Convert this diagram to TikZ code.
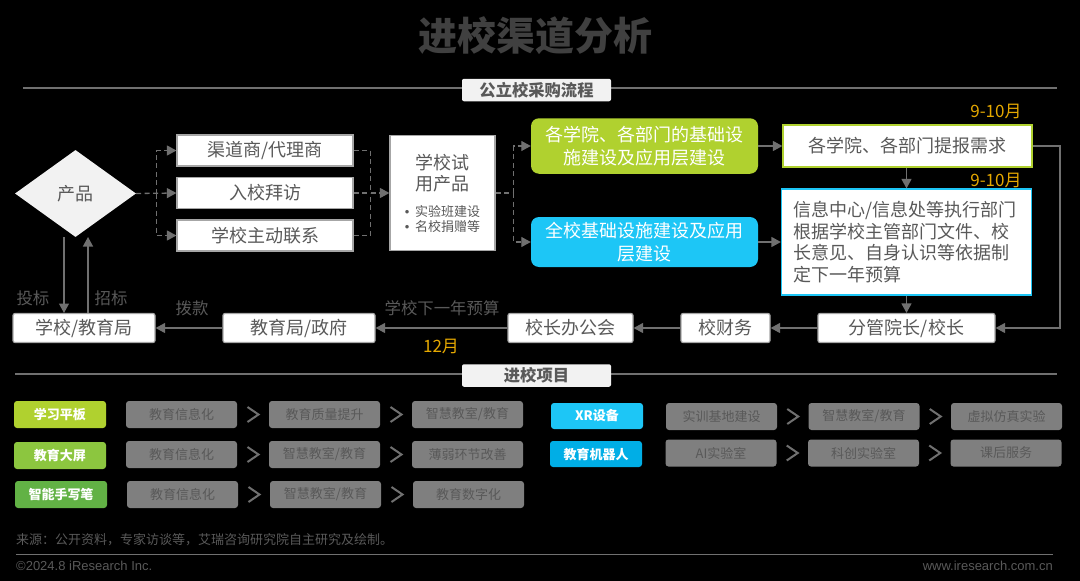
\documentclass[tikz,border=0pt]{standalone}
\usepackage{fontspec}
\setmainfont{Noto Sans CJK SC}
\newfontfamily\latinfont{Liberation Sans}
\usetikzlibrary{arrows.meta,calc,shapes.geometric}
\definecolor{txtgray}{HTML}{595959}
\definecolor{linegray}{HTML}{707070}
\definecolor{boxgray}{HTML}{7F7F7F}
\definecolor{lightbar}{HTML}{F2F2F2}
\definecolor{limegreen}{HTML}{B0D12F}
\definecolor{midgreen}{HTML}{8CC63F}
\definecolor{deepgreen}{HTML}{62B245}
\definecolor{skyblue}{HTML}{1DC6F6}
\definecolor{deepblue}{HTML}{00AEE6}
\definecolor{goldtxt}{HTML}{E5A800}
\tikzset{
  whitebox/.style={draw=#1,line width=1.2pt,fill=white,text=txtgray,inner sep=0pt,font=\fontsize{18}{21.7}\selectfont,align=center},
  whitebox/.default={black!35},
  softbox/.style={whitebox,rounded corners=2pt},
  colorbox/.style={fill=#1,text=white,rounded corners=8pt,inner sep=0pt,font=\fontsize{18}{22.5}\selectfont,align=center},
  tagbox/.style={fill=#1,text=white,rounded corners=3pt,inner sep=0pt,font=\fontsize{13}{15}\selectfont\bfseries},
  graybox/.style={fill=boxgray,text=txtgray,rounded corners=3pt,inner sep=0pt,minimum width=111pt,minimum height=27pt,font=\fontsize{13}{15}\selectfont},
  barbox/.style={fill=lightbar,text=txtgray,rounded corners=2pt,inner sep=0pt,minimum width=149pt,minimum height=22.5pt,font=\fontsize{16.3}{18}\selectfont\bfseries},
  flowline/.style={draw=linegray,line width=1.3pt,-{Triangle[length=9.5pt,width=10pt]}},
  dashline/.style={flowline,dashed,dash pattern=on 5pt off 3.5pt},
  dashplain/.style={draw=linegray,line width=1.3pt,dashed,dash pattern=on 5pt off 3.5pt},
  chevron/.style={draw=linegray,line width=2pt},
  note/.style={text=txtgray,inner sep=0pt,font=\fontsize{16.4}{19}\selectfont},
  month/.style={text=goldtxt,inner sep=0pt,font=\fontsize{17}{19}\selectfont}
}
\begin{document}
\begin{tikzpicture}[x=1pt,y=-1pt]
  \fill[black] (0,0) rectangle (1080,581);
  \useasboundingbox (0,0) rectangle (1080,581);
  % title and section bars
  \node[text=black!75,inner sep=0pt,font=\fontsize{39}{44}\selectfont\bfseries] (title) at (535,36) {进校渠道分析};
  \coordinate (barAl) at (23,88);
  \coordinate (barAr) at (1057,88);
  \coordinate (barBl) at (15,374);
  \coordinate (barBr) at (1057,374);
  \draw[linegray,line width=1.2pt] (barAl)--(barAr);
  \draw[linegray,line width=1.2pt] (barBl)--(barBr);
  \node[barbox] (barA) at (536.5,90) {公立校采购流程};
  \node[barbox] (barB) at (536.5,375.5) {进校项目};
  % upper flow
  \node[diamond,aspect=1.39,fill=lightbar,text=txtgray,inner sep=0pt,minimum width=121pt,minimum height=87pt,font=\fontsize{18}{22}\selectfont] (prod) at (75.5,193.5) {产品};
  \node[whitebox,minimum width=176pt,minimum height=31pt] (qudao) at (265,150.5) {渠道商/代理商};
  \node[whitebox,minimum width=176pt,minimum height=31pt] (baifang) at (265,193) {入校拜访};
  \node[whitebox,minimum width=176pt,minimum height=31pt] (lianxi) at (265,235.5) {学校主动联系};
  \node[whitebox,minimum width=105pt,minimum height=115pt] (shiyong) at (442.5,193) {学校试\\用产品\\[4pt]\fontsize{13}{15.5}\selectfont {\latinfont •}\hspace{3pt} 实验班建设\\[-7pt]\fontsize{13}{15.5}\selectfont {\latinfont •}\hspace{3pt} 名校捐赠等};
  \node[colorbox=limegreen,minimum width=227pt,minimum height=55.5pt] (jichu) at (644.5,146) {各学院、各部门的基础设\\施建设及应用层建设};
  \node[colorbox=skyblue,minimum width=227pt,minimum height=50pt] (quanxiao) at (644.5,242) {全校基础设施建设及应用\\层建设};
  \node[whitebox=limegreen,minimum width=249pt,minimum height=42pt] (tibao) at (907.5,146) {各学院、各部门提报需求};
  \node[whitebox=skyblue,minimum width=250pt,minimum height=106pt,text width=227pt,align=left] (yusuan) at (906.5,242) {信息中心/信息处等执行部门\\根据学校主管部门文件、校\\长意见、自身认识等依据制\\定下一年预算};
  \node[month] (mA) at (996,111) {9-10月};
  \node[month] (mB) at (996,180) {9-10月};
  % lower flow
  \node[softbox,minimum width=177pt,minimum height=29pt] (fenguan) at (906.5,328) {分管院长/校长};
  \node[softbox,minimum width=89pt,minimum height=29pt] (caiwu) at (725.5,328) {校财务};
  \node[softbox,minimum width=125pt,minimum height=29pt] (bangong) at (570.5,328) {校长办公会};
  \node[softbox,minimum width=152pt,minimum height=29pt] (zhengfu) at (299,328) {教育局/政府};
  \node[softbox,minimum width=142pt,minimum height=29pt] (xuexiao) at (84,328) {学校/教育局};
  \node[note] (toub) at (33,298) {投标};
  \node[note] (zhaob) at (111,298) {招标};
  \node[note] (bok) at (192,308) {拨款};
  \node[note] (xyn) at (442,308) {学校下一年预算};
  \node[month] (mC) at (441,346) {12月};
  \coordinate (tbtop) at (64,237);
  \coordinate (tbbot) at (64,313);
  \coordinate (zbtop) at (88,237);
  \coordinate (zbbot) at (88,313);
  \coordinate (trunk) at (1060,146);
  % dashed links
  \draw[dashline] (prod.east)--(baifang.west);
  \draw[dashline] ($(prod.east)+(20,0)$)|-(qudao.west);
  \draw[dashline] ($(prod.east)+(20,0)$)|-(lianxi.west);
  \draw[dashline] (baifang.east)--(baifang.east-|shiyong.west);
  \draw[dashplain] (qudao.east)-|($(baifang.east)+(17,0)$);
  \draw[dashplain] (lianxi.east)-|($(baifang.east)+(17,0)$);
  \draw[dashplain] (shiyong.east)--++(18,0);
  \draw[dashline] ($(shiyong.east)+(18,0)$)|-(jichu.west);
  \draw[dashline] ($(shiyong.east)+(18,0)$)|-(quanxiao.west);
  % solid links
  \draw[flowline] (jichu.east)--(tibao.west);
  \draw[flowline] (quanxiao.east)--(yusuan.west);
  \draw[flowline] (tibao.south-|yusuan.north)--(yusuan.north);
  \draw[flowline] (yusuan.south)--(fenguan.north);
  \draw[flowline] (tibao.east)--(trunk)|-(fenguan.east);
  \draw[flowline] (fenguan)--(caiwu);
  \draw[flowline] (caiwu)--(bangong);
  \draw[flowline] (bangong)--(zhengfu);
  \draw[flowline] (zhengfu)--(xuexiao);
  \draw[flowline] (tbtop)--(tbbot);
  \draw[flowline] (zbbot)--(zbtop);
  % lower project rows
  \node[tagbox=limegreen,minimum width=92pt,minimum height=27pt] (tagA) at (60,414.5) {学习平板};
  \node[tagbox=midgreen,minimum width=92pt,minimum height=27pt] (tagB) at (60,455.5) {教育大屏};
  \node[tagbox=deepgreen,minimum width=92pt,minimum height=27pt] (tagC) at (61,494.5) {智能手写笔};
  \node[tagbox=skyblue,minimum width=92pt,minimum height=26pt] (tagD) at (597,416) {XR设备};
  \node[tagbox=deepblue,minimum width=92pt,minimum height=26pt] (tagE) at (596,454) {教育机器人};
  \foreach \rowname/\posx/\posy/\stepx/\ta/\tb/\tc in {
    rowa/181.5/414.5/143/教育信息化/教育质量提升/{智慧教室/教育},
    rowb/181.5/454.5/143/教育信息化/{智慧教室/教育}/薄弱环节改善,
    rowc/182.5/494.5/143/教育信息化/{智慧教室/教育}/教育数字化,
    rowd/721.5/416.5/142.5/实训基地建设/{智慧教室/教育}/虚拟仿真实验,
    rowe/721/453/142.5/AI实验室/科创实验室/课后服务}{
    \node[graybox] (\rowname1) at (\posx,\posy) {\ta};
    \node[graybox] (\rowname2) at (\posx+\stepx,\posy) {\tb};
    \node[graybox] (\rowname3) at (\posx+2*\stepx,\posy) {\tc};
    \draw[chevron] ($(\rowname1)!.5!(\rowname2)+(-5.5,-7.5)$)--++(11,7.5)--++(-11,7.5);
    \draw[chevron] ($(\rowname2)!.5!(\rowname3)+(-5.5,-7.5)$)--++(11,7.5)--++(-11,7.5);
  }
  % footer
  \coordinate (footl) at (16,554);
  \coordinate (footr) at (1053,554);
  \draw[linegray,line width=.8pt] (footl)--(footr);
  \node[anchor=west,text=txtgray,inner sep=0pt,font=\fontsize{13}{15}\selectfont] (src) at (16,540) {来源：公开资料，专家访谈等，艾瑞咨询研究院自主研究及绘制。};
  \node[anchor=west,text=txtgray,inner sep=0pt,font=\fontsize{13}{15}\selectfont\latinfont] (copy) at (16,566) {©2024.8 iResearch Inc.};
  \node[anchor=east,text=txtgray,inner sep=0pt,font=\fontsize{13}{15}\selectfont\latinfont] (web) at (1053,566) {www.iresearch.com.cn};
\end{tikzpicture}
\end{document}
